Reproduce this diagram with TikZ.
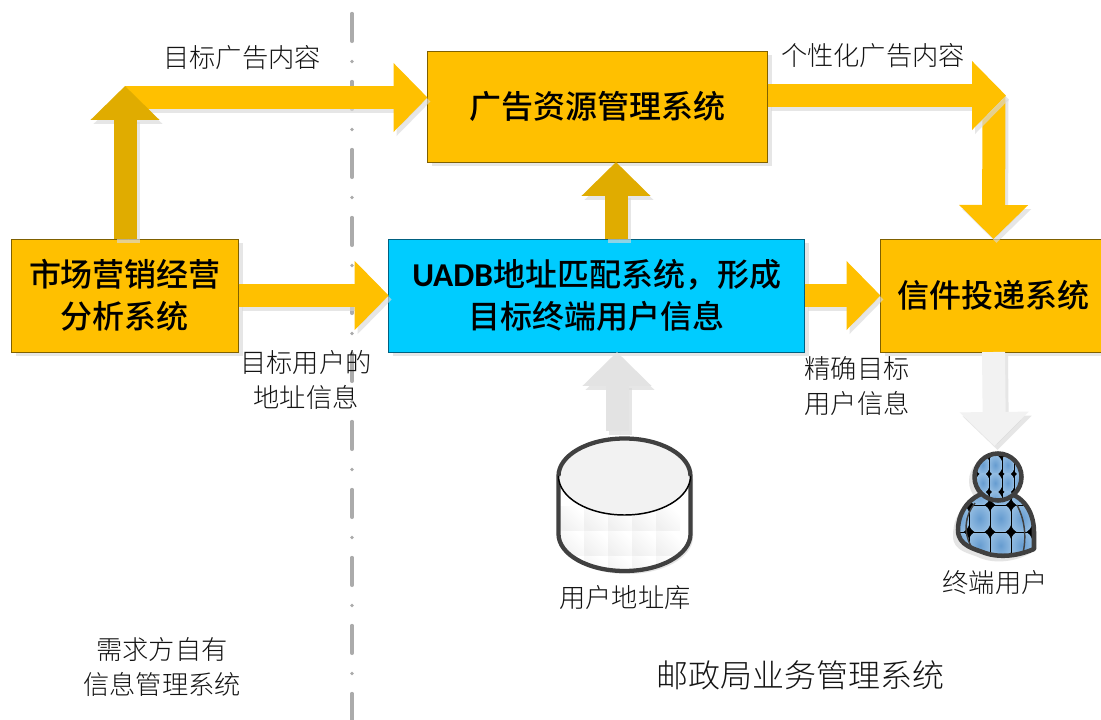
\documentclass[tikz,border=0pt]{standalone}
\usepackage{fontspec}
\usetikzlibrary{arrows.meta,shadows,calc}
\newfontfamily\lblfont{Noto Sans CJK SC Light}
\newfontfamily\boxfont{Noto Sans CJK SC Medium}
\newfontfamily\latinbold{Carlito Bold}
\definecolor{gold}{HTML}{FFC000}
\definecolor{golddark}{HTML}{E0AC00}
\definecolor{goldedge}{HTML}{7F6000}
\definecolor{cyanbox}{HTML}{00CCFF}
\definecolor{cyanedge}{HTML}{006080}
\definecolor{shadowgray}{HTML}{D9D9D9}
\definecolor{inkdark}{HTML}{404040}
\definecolor{greyarrow}{HTML}{E3E3E3}
\definecolor{paleshaft}{HTML}{F2F2F2}
\definecolor{cellblue}{HTML}{669CD0}
\definecolor{cellpale}{HTML}{94BDE2}
\tikzset{
  x=0.75pt,y=-0.75pt,
  sysbox/.style={draw=goldedge,line width=.7pt,fill=gold,inner sep=0pt,outer sep=0pt,align=center,
    font=\boxfont\fontsize{24}{31.5}\selectfont,text=black,
    drop shadow={shadow xshift=3pt,shadow yshift=-3pt,fill=shadowgray,opacity=.65}},
  lbl/.style={font=\lblfont\fontsize{19.7}{26.25}\selectfont,text=black!92,align=center,inner sep=0pt},
  blockshaft/.style={line width=17.25pt,-{Triangle[length=25.5pt,width=50.25pt]}},
  blockshadow/.style={blockshaft,draw=shadowgray,fill=shadowgray,opacity=.65,
    transform canvas={xshift=2.25pt,yshift=-3pt}},
  axisline/.style={draw=black!33,line width=2.8pt,line cap=round,dash pattern=on 20.6pt off 15.2pt on 0pt off 15.2pt},
  figline/.style={draw=inkdark,line width=3.4pt,line join=round},
}
\newcommand\blockarrow[3]{%
  \draw[blockshadow] (#2) -- (#3);
  \draw[blockshaft,draw=#1,fill=#1] (#2) -- (#3);}
\begin{document}
\begin{tikzpicture}
\path[use as bounding box,clip] (0,0) rectangle (1101,720);
\fill[white] (0,0) rectangle (1101,720);
% axis
\coordinate (axistop) at (352,13.7);
\coordinate (axisbot) at (352,722);
\draw[axisline] (axistop) -- (axisbot);
% boxes
\node[sysbox,minimum width=255pt,minimum height=83.25pt] (ad) at (597.5,106.5) {广告资源管理系统};
\node[sysbox,minimum width=170.25pt,minimum height=84.75pt] (mk) at (125,295.5) {市场营销经营\\分析系统};
\node[sysbox,fill=cyanbox,draw=cyanedge,minimum width=312pt,minimum height=84.75pt] (uadb) at (596.7,295.5) {{\latinbold\fontsize{25}{31.5}\selectfont UADB}地址匹配系统，形成\\目标终端用户信息};
\node[sysbox,minimum width=169.5pt,minimum height=84.75pt] (post) at (993.5,295.5) {信件投递系统};
% routing points
\coordinate (elbowL) at (125,97.5);
\coordinate (elbowLtop) at (125,86);
\coordinate (elbowR) at (994,95.5);
\coordinate (elbowRtip) at (1006,95.5);
\coordinate (linkx) at (616,200);
\coordinate (dbtop) at (617,431);
\coordinate (figtop) at (994.5,446);
% arrows
\blockarrow{gold}{elbowL}{ad.west |- elbowL}
\blockarrow{golddark}{mk.north -| elbowL}{elbowLtop}
\blockarrow{gold}{elbowR}{post.north}
\blockarrow{gold}{ad.east |- elbowR}{elbowRtip}
\blockarrow{gold}{mk.east}{uadb.west}
\blockarrow{gold}{uadb.east}{post.west}
\blockarrow{golddark}{uadb.north -| linkx}{ad.south -| linkx}
\blockarrow{greyarrow}{dbtop}{uadb.south -| dbtop}
\blockarrow{paleshaft}{post.south}{figtop}
% database
\fill[shadowgray!70] (561,479) -- (561,537) arc[start angle=180,end angle=0,x radius=66,y radius=37] -- (693,479) -- cycle;
\begin{scope}
  \path[clip] (558,476) arc[start angle=180,end angle=0,x radius=66.5,y radius=38]
      -- (691,534) arc[start angle=0,end angle=180,x radius=66.5,y radius=37] -- cycle;
  \fill[white] (550,430) rectangle (700,580);
  \foreach \cx in {560,584,608,632,656}
    \foreach \cy in {507,532,557}
      \shade[left color=black!6,right color=white,shading angle=135] (\cx,\cy) rectangle +(24,25);
\end{scope}
\draw[inkdark,line width=3.2pt] (558.5,476) -- (558.5,534) arc[start angle=180,end angle=0,x radius=66,y radius=37] -- (690.5,476);
\fill[paleshaft] (558.5,476) arc[start angle=180,end angle=0,x radius=66,y radius=39] -- cycle;
\draw[inkdark,line width=3.2pt,fill=paleshaft] (558.5,476) arc[start angle=180,end angle=360,x radius=66,y radius=37.5];
\draw[black,line width=1.1pt] (558.5,476) arc[start angle=180,end angle=0,x radius=66,y radius=39];
% person: shadow
\fill[shadowgray!70] (994,481) circle[radius=25];
\fill[shadowgray!70] (953,536) .. controls (953,510) and (970,497) .. (993,497) .. controls (1018,497) and (1031,515) .. (1031,537) -- (1031,553) .. controls (1015,562) and (995,564) .. (980,558) .. controls (970,553) and (953,552) .. (953,536) -- cycle;
% person: body
\def\bodypath{(958,530) .. controls (958,508) and (975,491) .. (996,491) .. controls (1021,491) and (1034,510) .. (1034,532) -- (1034,549) .. controls (1018,556) and (1000,558) .. (985,553) .. controls (975,549) and (958,546) .. (958,530) -- cycle}
\begin{scope}
  \clip \bodypath;
  \fill[black] (950,480) rectangle (1040,565);
  \foreach \cx in {979.5,1000.5,1021.5,958.5}
    \foreach \cy in {491.5,518.5,545.5}
      \shade[inner color=cellblue,outer color=cellpale] (\cx,\cy) ellipse[x radius=11.6,y radius=15];
  \foreach \cy in {505,532} \draw[black,line width=.7pt] (950,\cy) -- (1040,\cy);
  \foreach \cx in {969,990,1011} \draw[black,line width=.7pt] (\cx,480) -- (\cx,565);
\end{scope}
\draw[figline] \bodypath;
\draw[inkdark,line width=1.1pt] (975,503) .. controls (965,515) and (963,532) .. (971,546);
\draw[inkdark,line width=1.1pt] (1017,505) .. controls (1024,518) and (1027,535) .. (1023,553);
% person: head
\begin{scope}
  \clip (998,477) circle[radius=24];
  \fill[black] (970,450) rectangle (1025,505);
  \foreach \cx in {982.7,995.2,1007.7,1020.2,970.2}
    \foreach \cy in {465,483,501}
      \shade[inner color=cellblue,outer color=cellpale] (\cx,\cy) ellipse[x radius=7,y radius=10];
  \foreach \cx in {989,1002,1014} \draw[black,line width=.5pt] (\cx,450) -- (\cx,505);
\end{scope}
\draw[figline] (998,477) circle[radius=23.5];
% labels
\node[lbl] (l1) at (242,58) {目标广告内容};
\node[lbl] (l2) at (873,56) {个性化广告内容};
\node[lbl] (l3) at (306,380) {目标用户的\\地址信息};
\node[lbl] (l4) at (857,386) {精确目标\\用户信息};
\node[lbl] (l5) at (625,598) {用户地址库};
\node[lbl] (l6) at (995,583) {终端用户};
\node[lbl] (l7) at (162,667) {需求方自有\\信息管理系统};
\node[lbl,font=\lblfont\fontsize{24}{30}\selectfont] (l8) at (800,675) {邮政局业务管理系统};
\end{tikzpicture}
\end{document}
